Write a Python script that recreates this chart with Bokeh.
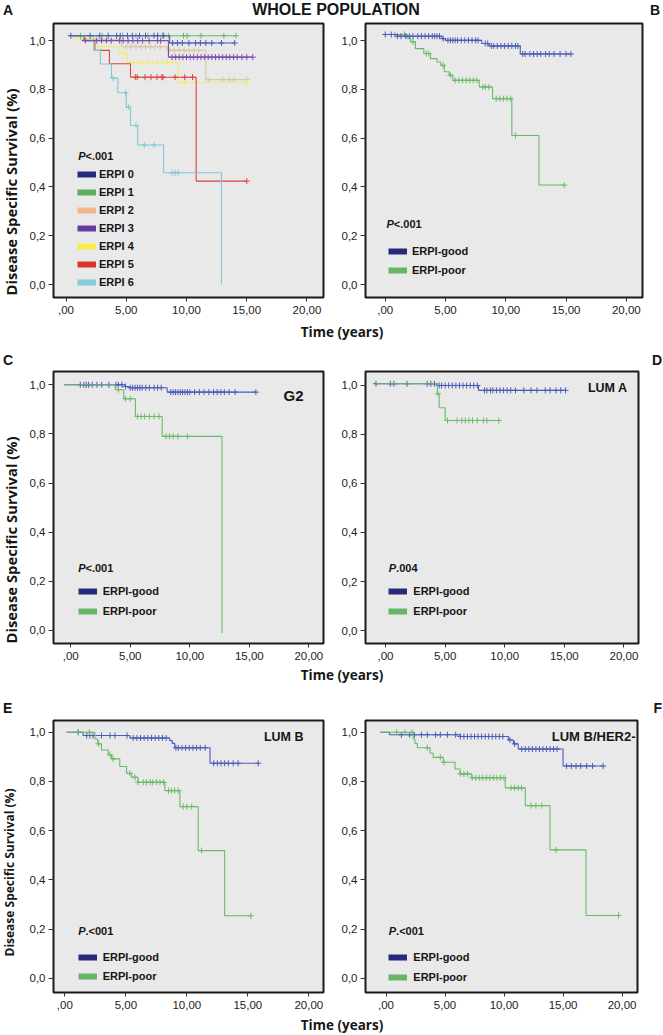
from math import pi, nan
from bokeh.plotting import figure
from bokeh.models import Range1d, FixedTicker, Label, Legend, LegendItem, Div, Title
from bokeh.layouts import column, row
from bokeh.embed import file_html
from bokeh.resources import INLINE

# ---------------- axis ticks ----------------
X_TICKS = [0, 5, 10, 15, 20]
X_TICK_LABELS = [",00", "5,00", "10,00", "15,00", "20,00"]
Y_TICKS = [0.0, 0.2, 0.4, 0.6, 0.8, 1.0]
Y_TICK_LABELS = ["0,0", "0,2", "0,4", "0,6", "0,8", "1,0"]

# ---------------- panel A (whole population, ERPI 0..6) ----------------
A_NAMES = ["ERPI 0", "ERPI 1", "ERPI 2", "ERPI 3", "ERPI 4", "ERPI 5", "ERPI 6"]
a0_t = [0.2, 8.6, 14.0]
a0_s = [1.02, 0.99, 0.99]
a0_c = [0.4, 2.0, 2.8, 3.5, 4.2, 4.5, 5.1, 5.5, 6.1, 6.6, 7.3, 7.6, 8.1, 8.85, 9.25, 9.65,
        10.2, 10.75, 11.15, 11.6, 12.1, 12.9, 14.0]
a1_t = [0.5, 14.1]
a1_s = [1.02, 1.02]
a1_c = [1.2, 3.0, 4.7, 5.8, 6.8, 8.0, 8.5, 9.75, 10.05, 11.2, 13.1, 14.1]
a2_t = [0.5, 1.2, 4.6, 8.4, 11.6, 15.0]
a2_s = [1.02, 1.005, 0.975, 0.96, 0.84, 0.84]
a2_c = [5.0, 5.4, 5.8, 6.2, 6.6, 7.0, 7.4, 7.8, 8.6, 9.0, 9.4, 9.8, 10.2, 10.6, 11.0,
        11.8, 13.0, 13.55, 13.95, 15.0]
a3_t = [0.5, 1.5, 8.5, 15.5]
a3_s = [1.02, 1.0, 0.932, 0.932]
a3_c = [1.6, 2.55, 2.95, 3.35, 3.75, 4.45, 4.75, 5.15, 5.55, 5.95, 6.35, 6.9, 7.6, 7.85,
        8.8, 9.1, 9.4, 9.7, 10.0, 10.3, 10.6, 10.9, 11.2, 11.5, 11.8, 12.1, 12.4, 12.7,
        13.0, 13.3, 13.6, 13.9, 14.2, 14.6, 15.0, 15.5]
a4_t = [0.7, 2.3, 4.4, 5.1, 9.3, 15.0]
a4_s = [1.01, 0.975, 0.95, 0.91, 0.828, 0.828]
a4_c = [0.8, 4.8, 5.6, 6.0, 6.4, 6.8, 7.2, 7.6, 8.0, 8.4, 8.8, 9.6, 9.9, 15.0]
a5_t = [1.3, 2.4, 3.6, 5.35, 10.8, 15.0]
a5_s = [1.0, 0.96, 0.905, 0.85, 0.424, 0.424]
a5_c = [5.75, 5.9, 6.55, 7.05, 7.55, 7.95, 8.05, 9.05, 9.85, 10.5, 15.0]
a6_t = [0.3, 2.3, 2.85, 3.77, 4.3, 5.0, 5.35, 5.95, 8.1, 12.9]
a6_s = [1.02, 0.96, 0.904, 0.846, 0.786, 0.727, 0.652, 0.572, 0.458, 0.0]
a6_c = [3.9, 4.95, 5.2, 5.8, 6.5, 7.3, 8.8, 9.05, 9.3]

# ---------------- panels B-F (ERPI-good / ERPI-poor) ----------------
GROUP_NAMES = ["ERPI-good", "ERPI-poor"]

b_good_t = [0.0, 1.0, 4.7, 5.0, 8.0, 8.6, 11.2, 15.4]
b_good_s = [1.025, 1.018, 1.008, 1.001, 0.988, 0.978, 0.945, 0.945]
b_good_c = [0.0, 0.5, 1.0, 1.3, 1.7, 2.0, 2.3, 2.7, 3.0, 3.3, 3.6, 3.9, 4.1, 4.3, 4.5, 4.8,
            5.2, 5.4, 5.6, 5.8, 6.0, 6.3, 6.6, 6.9, 7.2, 7.5, 7.7, 8.3, 8.5, 8.8, 9.0, 9.3,
            9.6, 9.9, 10.2, 10.5, 10.8, 11.0, 11.4, 11.6, 12.0, 12.3, 12.6, 12.9, 13.3,
            13.6, 14.0, 14.5, 15.0, 15.4]
b_poor_t = [0.0, 1.8, 2.1, 2.5, 3.2, 3.75, 4.3, 4.6, 4.9, 5.3, 5.6, 7.8, 8.9, 10.5, 12.75, 14.85]
b_poor_s = [1.025, 1.01, 0.995, 0.967, 0.947, 0.926, 0.912, 0.899, 0.872, 0.858, 0.837,
            0.81, 0.762, 0.611, 0.408, 0.408]
b_poor_c = [0.8, 1.6, 2.3, 3.4, 3.6, 4.8, 5.4, 5.8, 6.1, 6.4, 6.7, 7.0, 7.3, 7.6, 8.1, 8.3,
            8.6, 9.2, 9.5, 9.8, 10.1, 10.4, 10.8, 14.85]

c_good_t = [-0.55, 4.6, 4.9, 8.1, 15.55]
c_good_s = [1.0, 0.993, 0.988, 0.97, 0.97]
c_good_c = [0.8, 1.1, 1.3, 1.5, 1.8, 2.2, 2.6, 3.2, 3.8, 4.0, 4.3, 4.6, 5.0, 5.2, 5.4, 5.6,
            5.8, 6.0, 6.3, 6.6, 7.0, 7.3, 7.6, 8.4, 8.6, 8.8, 9.0, 9.2, 9.4, 9.6, 9.8,
            10.0, 10.4, 10.8, 11.2, 11.6, 12.0, 12.3, 12.6, 12.9, 13.3, 13.8, 15.55]
c_poor_t = [-0.55, 3.74, 4.45, 5.43, 7.68, 12.7]
c_poor_s = [1.0, 0.98, 0.943, 0.871, 0.79, -0.01]
c_poor_c = [4.0, 4.6, 5.0, 5.6, 5.9, 6.2, 6.6, 7.0, 7.4, 8.0, 8.3, 8.6, 9.0, 9.8]

d_good_t = [-0.84, 4.3, 7.8, 15.1]
d_good_s = [1.007, 1.0, 0.98, 0.98]
d_good_c = [-0.8, 0.4, 0.7, 1.8, 3.5, 3.8, 4.1, 4.5, 4.7, 5.0, 5.3, 5.6, 5.9, 6.2, 6.5, 6.8,
            7.1, 7.4, 7.7, 8.3, 8.5, 8.8, 9.0, 9.3, 9.6, 9.9, 10.2, 10.5, 10.9, 11.6, 12.2,
            12.7, 13.4, 13.8, 14.3, 14.7, 15.1]
d_poor_t = [-0.84, 4.35, 4.5, 5.0, 9.5]
d_poor_s = [1.007, 0.966, 0.909, 0.857, 0.857]
d_poor_c = [4.4, 5.2, 6.0, 6.4, 6.7, 7.0, 7.3, 7.7, 8.2, 8.5, 9.5]

e_good_t = [0.14, 1.5, 5.33, 8.6, 8.8, 9.0, 11.9, 15.85]
e_good_s = [1.0, 0.987, 0.977, 0.966, 0.955, 0.937, 0.874, 0.874]
e_good_c = [1.1, 1.8, 2.05, 2.3, 3.0, 3.7, 4.1, 5.1, 5.6, 5.9, 6.2, 6.5, 6.8, 7.1, 7.4, 7.7,
            8.0, 8.3, 9.1, 9.3, 9.6, 9.9, 10.2, 10.5, 10.8, 11.1, 11.5, 12.2, 12.5, 12.8,
            13.1, 13.4, 13.8, 14.2, 15.85]
e_poor_t = [0.14, 2.46, 2.7, 3.0, 3.56, 3.83, 4.5, 5.06, 5.47, 6.0, 8.2, 9.43, 10.93, 13.1, 15.25]
e_poor_s = [1.0, 0.973, 0.953, 0.928, 0.909, 0.892, 0.861, 0.833, 0.817, 0.797, 0.763,
            0.698, 0.519, 0.254, 0.254]
e_poor_c = [1.1, 2.0, 2.75, 3.7, 3.96, 5.33, 5.74, 6.0, 6.43, 6.7, 7.0, 7.2, 7.5, 7.8, 8.1,
            8.5, 8.75, 9.0, 9.3, 9.7, 10.0, 10.4, 11.2, 15.25]

f_good_t = [-0.5, 0.3, 6.27, 10.37, 10.8, 11.2, 15.0, 18.4]
f_good_s = [1.0, 0.99, 0.983, 0.969, 0.953, 0.932, 0.863, 0.863]
f_good_c = [1.3, 2.0, 2.4, 3.0, 3.5, 4.2, 4.6, 5.2, 5.9, 6.3, 6.6, 6.9, 7.2, 7.5, 7.8, 8.1,
            8.4, 8.7, 9.0, 9.3, 9.6, 9.9, 10.5, 10.9, 11.5, 11.8, 12.1, 12.4, 12.7, 13.0,
            13.3, 13.6, 13.9, 14.2, 14.5, 15.3, 15.7, 16.1, 16.5, 17.0, 17.5, 18.4]
f_poor_t = [-0.5, 2.3, 2.45, 2.65, 3.73, 4.0, 4.86, 5.85, 6.27, 7.26, 10.1, 11.8, 13.9, 16.95, 19.7]
f_poor_s = [1.0, 0.973, 0.955, 0.937, 0.915, 0.898, 0.878, 0.851, 0.831, 0.815, 0.774,
            0.702, 0.522, 0.255, 0.255]
f_poor_c = [0.9, 1.6, 2.2, 3.5, 4.6, 4.9, 6.3, 6.6, 6.9, 7.3, 7.6, 7.9, 8.2, 8.5, 8.8, 9.1,
            9.4, 9.7, 10.0, 10.6, 10.9, 11.2, 11.5, 12.3, 12.7, 13.2, 14.4, 19.7]

# ---------------- styles ----------------
A_LINE = ["#4a5cb8", "#6abb67", "#d5c8a2", "#7a4fb0", "#eeec6a", "#e0443e", "#7fc9d3"]
A_KEY = ["#262a78", "#5fae5c", "#f1b88f", "#673c9f", "#f3ee4a", "#d7332f", "#86ccd8"]
G_LINE = ["#4a5cb8", "#6abb67"]
G_KEY = ["#262a78", "#69b566"]

SANS = "Liberation Sans"
HUM = "Open Sans"
INK = "#161616"


def surv_at(t, s, c):
    idx = 0
    for i, ti in enumerate(t):
        if ti <= c:
            idx = i
    return s[idx]


def make_panel(width, height, bl, br, bt, bb, xr, yr):
    p = figure(width=width, height=height, x_range=Range1d(*xr), y_range=Range1d(*yr),
               output_backend="svg", toolbar_location=None,
               min_border_left=bl, min_border_right=br, min_border_top=bt,
               min_border_bottom=bb, margin=0)
    p.background_fill_color = "#e9e9e9"
    p.border_fill_color = "white"
    p.outline_line_color = "#1a1a1a"
    p.outline_line_width = 2
    p.grid.visible = False
    for ax, ticks, labels in ((p.xaxis[0], X_TICKS, X_TICK_LABELS),
                              (p.yaxis[0], Y_TICKS, Y_TICK_LABELS)):
        ax.ticker = FixedTicker(ticks=ticks)
        ax.major_label_overrides = {t: l for t, l in zip(ticks, labels)}
        ax.axis_line_color = None
        ax.minor_tick_line_color = None
        ax.major_tick_in = 0
        ax.major_tick_line_color = "#333333"
        ax.major_label_text_font = SANS
        ax.major_label_text_font_size = "11.5px"
        ax.major_label_text_color = "#222222"
    p.xaxis[0].major_tick_out = 4
    p.xaxis[0].major_label_standoff = 4
    p.yaxis[0].major_tick_out = 5
    p.yaxis[0].major_label_standoff = 3
    return p


def add_curve(p, t, s, c, color):
    p.step(x=t, y=s, mode="after", line_color=color, line_width=1.1)
    p.scatter(x=c, y=[surv_at(t, s, ci) for ci in c], marker="cross", size=6,
              line_color=color, line_width=1)


def add_legend(p, names, key_colors, vx, vy, spacing, standoff):
    items = []
    for nm, col in zip(names, key_colors):
        # key swatch only: a renderer with a single undefined point draws nothing in the plot
        r = p.line(x=[nan], y=[nan], line_color=col, line_width=6)
        items.append(LegendItem(label=nm, renderers=[r]))
    lg = Legend(items=items, location=(vx, vy), border_line_color=None,
                background_fill_alpha=0, padding=0, margin=0, spacing=spacing,
                glyph_width=19, glyph_height=14, label_height=14, label_standoff=standoff,
                label_text_font=SANS, label_text_font_style="bold",
                label_text_font_size="11px", label_text_color=INK)
    p.add_layout(lg)


def add_p(p, x, y, rest):
    p.add_layout(Label(x=x, y=y, x_units="screen", y_units="screen", text="P",
                       text_font=SANS, text_font_style="bold italic", text_font_size="11px",
                       text_baseline="middle", text_color=INK))
    p.add_layout(Label(x=x + 7.3, y=y, x_units="screen", y_units="screen", text=rest,
                       text_font=SANS, text_font_style="bold", text_font_size="11px",
                       text_baseline="middle", text_color=INK))


def add_text(p, x, y, txt, size, align="left", font=SANS):
    p.add_layout(Label(x=x, y=y, x_units="screen", y_units="screen", text=txt,
                       text_font=font, text_font_style="bold", text_font_size=size,
                       text_align=align, text_baseline="middle", text_color=INK))


STRIP_W = 26


def ylabel_fig(h, start_from_bottom, size):
    """Narrow strip carrying the rotated y-axis title as a left-side Title."""
    q = figure(width=STRIP_W, height=h, x_range=Range1d(0, 1), y_range=Range1d(0, 1),
               output_backend="svg", toolbar_location=None, x_axis_location=None,
               y_axis_location=None, min_border_left=0, min_border_right=0,
               min_border_top=0, min_border_bottom=0, margin=0, title=None)
    q.outline_line_color = None
    q.background_fill_color = "white"
    q.border_fill_color = "white"
    q.grid.visible = False
    q.add_layout(Title(text="Disease Specific Survival (%)", align="left",
                       vertical_align="top", offset=start_from_bottom, standoff=0,
                       text_font=HUM, text_font_style="bold", text_font_size=size,
                       text_color=INK),
                 "left")
    return q


def caption_div(h, time_top, letters=None, letter_top=0):
    parts = ['<div style="position:relative;width:663px;height:%dpx;color:#161616;">' % h]
    parts.append('<span style="position:absolute;left:342px;top:%.1fpx;transform:translateX(-50%%);'
                 'font-family:\'Open Sans\';font-weight:bold;font-size:13.5px;line-height:14px;'
                 'white-space:nowrap;">Time (years)</span>' % time_top)
    if letters:
        parts.append('<span style="position:absolute;left:3px;top:%.1fpx;font-family:\'Liberation Sans\';'
                     'font-weight:bold;font-size:14px;line-height:14px;">%s</span>' % (letter_top, letters[0]))
        parts.append('<span style="position:absolute;right:1px;top:%.1fpx;font-family:\'Liberation Sans\';'
                     'font-weight:bold;font-size:14px;line-height:14px;">%s</span>' % (letter_top, letters[1]))
    parts.append('</div>')
    return Div(text="".join(parts), width=663, height=h, margin=0)


LW = 330 - STRIP_W      # width of the left panels
LB = 52 - STRIP_W       # left border of the left panels

# ---------------- Panel A ----------------
pA = make_panel(LW, 301, LB, 7, 2, 25, (-1.04, 21.37), (-0.053, 1.070))
A_T = [a0_t, a1_t, a2_t, a3_t, a4_t, a5_t, a6_t]
A_S = [a0_s, a1_s, a2_s, a3_s, a4_s, a5_s, a6_s]
A_C = [a0_c, a1_c, a2_c, a3_c, a4_c, a5_c, a6_c]
for k in [2, 4, 5, 6, 3, 1, 0]:
    add_curve(pA, A_T[k], A_S[k], A_C[k], A_LINE[k])
add_legend(pA, A_NAMES, A_KEY, 24, 8, 4, 3)
add_p(pA, 24.7, 142, "<.001")

# ---------------- Panel B ----------------
pB = make_panel(333, 301, 35, 21, 2, 25, (-1.64, 21.34), (-0.053, 1.070))
add_curve(pB, b_poor_t, b_poor_s, b_poor_c, G_LINE[1])
add_curve(pB, b_good_t, b_good_s, b_good_c, G_LINE[0])
add_legend(pB, GROUP_NAMES, G_KEY, 23, 20, 5, 5)
add_p(pB, 21, 74, "<.001")

# ---------------- Panel C ----------------
pC = make_panel(LW, 297, LB, 7, 3, 22, (-1.45, 21.23), (-0.053, 1.054))
add_curve(pC, c_good_t, c_good_s, c_good_c, G_LINE[0])
add_curve(pC, c_poor_t, c_poor_s, c_poor_c, G_LINE[1])
add_legend(pC, GROUP_NAMES, G_KEY, 24.7, 25.3, 6, 6)
add_p(pC, 24.7, 75.7, "<.001")
add_text(pC, 250, 248, "G2", "15px", "right")

# ---------------- Panel D ----------------
pD = make_panel(333, 297, 35, 25, 3, 22, (-1.68, 21.22), (-0.053, 1.057))
add_curve(pD, d_good_t, d_good_s, d_good_c, G_LINE[0])
add_curve(pD, d_poor_t, d_poor_s, d_poor_c, G_LINE[1])
add_legend(pD, GROUP_NAMES, G_KEY, 23.3, 25.3, 6, 6)
add_p(pD, 23.3, 75.7, ".004")
add_text(pD, 262, 256, "LUM A", "12.5px", "right")

# ---------------- Panel E ----------------
pE = make_panel(LW, 299, LB, 7, 5, 22, (-0.93, 21.2), (-0.058, 1.048))
add_curve(pE, e_good_t, e_good_s, e_good_c, G_LINE[0])
add_curve(pE, e_poor_t, e_poor_s, e_poor_c, G_LINE[1])
add_legend(pE, GROUP_NAMES, G_KEY, 24.7, 9, 5, 6)
add_p(pE, 24.7, 61.3, ".<001")
add_text(pE, 250, 256, "LUM B", "12.5px", "right")

# ---------------- Panel F ----------------
pF = make_panel(333, 299, 35, 26, 5, 22, (-1.74, 21.31), (-0.058, 1.048))
add_curve(pF, f_good_t, f_good_s, f_good_c, G_LINE[0])
add_curve(pF, f_poor_t, f_poor_s, f_poor_c, G_LINE[1])
add_legend(pF, GROUP_NAMES, G_KEY, 23.3, 8.3, 6, 6)
add_p(pF, 23.3, 61.3, ".<001")
add_text(pF, 270, 256, "LUM B/HER2-", "13px", "right")

# ---------------- header ----------------
head_html = (
    '<div style="position:relative;width:663px;height:21px;font-family:\'Liberation Sans\';'
    'font-weight:bold;color:#161616;">'
    '<span style="position:absolute;left:3px;top:3px;font-size:14px;line-height:14px;">A</span>'
    '<span style="position:absolute;left:336px;top:1.5px;transform:translateX(-50%);'
    'font-size:16px;line-height:16px;white-space:nowrap;">WHOLE POPULATION</span>'
    '<span style="position:absolute;right:3px;top:3px;font-size:14px;line-height:14px;">B</span>'
    '</div>')
head = Div(text=head_html, width=663, height=21, margin=0)

layout = column(
    head,
    row(ylabel_fig(301, 2, "14.8px"), pA, pB, spacing=0),
    caption_div(46, 2.5, ("C", "D"), 31.1),
    row(ylabel_fig(297, 0, "14.8px"), pC, pD, spacing=0),
    caption_div(50, 3.3, ("E", "F"), 36.1),
    row(ylabel_fig(299, 36, "12px"), pE, pF, spacing=0),
    caption_div(21, 4.3),
    spacing=0,
)

open("out.html", "w").write(file_html(layout, INLINE))
